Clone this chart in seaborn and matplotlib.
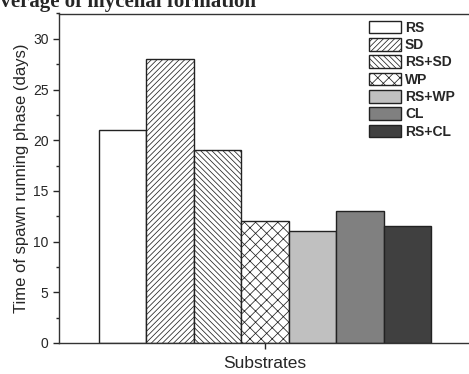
import matplotlib
matplotlib.use("Agg")
import matplotlib.pyplot as plt
import seaborn as sns
import pandas as pd
from matplotlib.ticker import MultipleLocator
from matplotlib.patches import Patch

# data
substrates = ['RS', 'SD', 'RS+SD', 'WP', 'RS+WP', 'CL', 'RS+CL']
days = [21, 28, 19, 12, 11, 13, 11.5]

colors = ['white', 'white', 'white', 'white', '#c0c0c0', '#808080', '#404040']
hatches = ['', '//////', '\\\\\\\\\\\\', 'xxx', '', '', '']

df = pd.DataFrame({'group': [''] * len(substrates), 'sub': substrates, 'days': days})

sns.set_style('ticks')
plt.rcParams['font.family'] = ['Liberation Sans', 'DejaVu Sans']
plt.rcParams['hatch.color'] = '#808080'
plt.rcParams['hatch.linewidth'] = 0.55

fig = plt.figure(figsize=(4.69, 3.74), dpi=100)
ax = fig.add_axes([59 / 469, 1 - 343 / 374, (471 - 59) / 469, (343 - 13.5) / 374])

sns.barplot(data=df, x='group', y='days', hue='sub', hue_order=substrates,
            palette=colors, width=0.806, edgecolor='#222222', linewidth=1.0,
            saturation=1, legend=False, ax=ax)

for p, h in zip(ax.patches, hatches):
    p.set_hatch(h)

ax.set_ylim(0, 32.5)
ax.yaxis.set_major_locator(MultipleLocator(5))
ax.yaxis.set_minor_locator(MultipleLocator(2.5))
ax.tick_params(axis='both', which='major', length=4, width=1, labelsize=10, direction='out')
ax.tick_params(axis='y', which='minor', length=2.5, width=1)
ax.set_xticklabels([''])
ax.set_xlabel('Substrates', fontsize=12.5, labelpad=2)
ax.set_ylabel('Time of spawn running phase (days)', fontsize=12, labelpad=3)
for s in ax.spines.values():
    s.set_linewidth(1.0)
    s.set_color('#333333')

handles = [Patch(facecolor=c, edgecolor='#222222', hatch=h, linewidth=1.0)
           for c, h in zip(colors, hatches)]
ax.legend(handles, substrates, loc='upper left', bbox_to_anchor=(0.752, 0.978),
          frameon=False, prop={'weight': 'bold', 'size': 10},
          handlelength=2.35, handleheight=1.0, labelspacing=0.24, handletextpad=0.25,
          borderaxespad=0, borderpad=0)

fig.text(-25 / 469, 1 - 7 / 374, 'Coverage of mycelial formation', fontsize=15,
         fontweight='bold', family='Liberation Serif', va='baseline', ha='left')

fig.savefig('out.png', dpi=100)
